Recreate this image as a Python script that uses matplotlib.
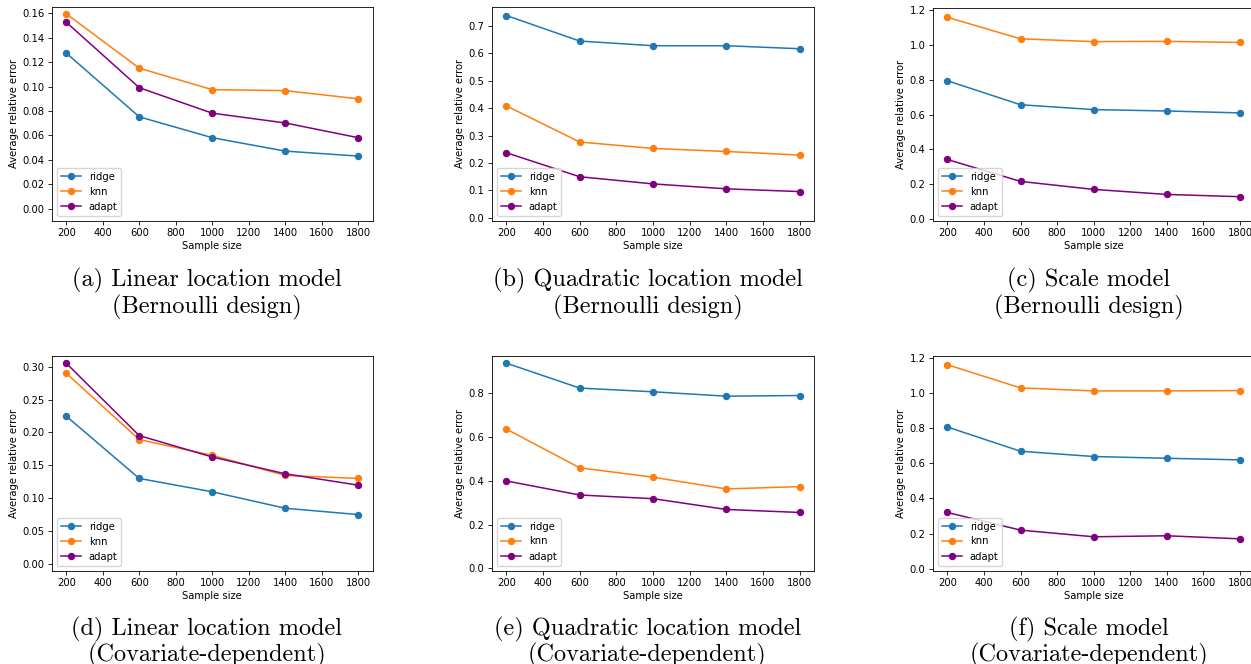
import matplotlib
matplotlib.use("Agg")
import matplotlib.pyplot as plt

W, H = 1251, 664
sample_sizes = [200, 600, 1000, 1400, 1800]
methods = ["ridge", "knn", "adapt"]
colors = {"ridge": "#1f77b4", "knn": "#ff7f0e", "adapt": "#800080"}

# Panel data (average relative error)
a_ridge = [0.1275, 0.0752, 0.0581, 0.0471, 0.0430]
a_knn   = [0.1597, 0.1151, 0.0975, 0.0967, 0.0900]
a_adapt = [0.1528, 0.0991, 0.0782, 0.0702, 0.0581]

b_ridge = [0.737, 0.644, 0.627, 0.627, 0.616]
b_knn   = [0.408, 0.2765, 0.253, 0.242, 0.229]
b_adapt = [0.2375, 0.150, 0.124, 0.106, 0.096]

c_ridge = [0.795, 0.657, 0.629, 0.621, 0.610]
c_knn   = [1.160, 1.036, 1.020, 1.0215, 1.015]
c_adapt = [0.342, 0.216, 0.170, 0.141, 0.128]

d_ridge = [0.2248, 0.1302, 0.1099, 0.0849, 0.0753]
d_knn   = [0.290, 0.1892, 0.1653, 0.1348, 0.1302]
d_adapt = [0.3052, 0.1953, 0.1628, 0.1373, 0.1200]

e_ridge = [0.9367, 0.823, 0.806, 0.786, 0.789]
e_knn   = [0.6357, 0.459, 0.416, 0.3624, 0.373]
e_adapt = [0.399, 0.3347, 0.318, 0.2687, 0.255]

f_ridge = [0.806, 0.668, 0.638, 0.628, 0.619]
f_knn   = [1.160, 1.028, 1.011, 1.011, 1.013]
f_adapt = [0.320, 0.2196, 0.1817, 0.1874, 0.170]

captions = [
    "(a) Linear location model\n(Bernoulli design)",
    "(b) Quadratic location model\n(Bernoulli design)",
    "(c) Scale model\n(Bernoulli design)",
    "(d) Linear location model\n(Covariate-dependent)",
    "(e) Quadratic location model\n(Covariate-dependent)",
    "(f) Scale model\n(Covariate-dependent)",
]

panels = [
    (a_ridge, a_knn, a_adapt),
    (b_ridge, b_knn, b_adapt),
    (c_ridge, c_knn, c_adapt),
    (d_ridge, d_knn, d_adapt),
    (e_ridge, e_knn, e_adapt),
    (f_ridge, f_knn, f_adapt),
]

# axes boxes in pixels: left, right, top, bottom
boxes = [
    (51.7, 372.7, 6.7, 220.7),
    (491.7, 814.3, 6.7, 220.7),
    (932.7, 1254.7, 8.3, 220.7),
    (51.7, 372.7, 355.7, 570.7),
    (491.7, 814.3, 355.7, 570.5),
    (932.7, 1254.7, 356.0, 570.5),
]
# caption centre positions (px): x, y of first line, y of second line
cap_pos = [
    (206.5, 280, 307.5),
    (647.5, 280, 307.5),
    (1089, 280, 307.5),
    (206.5, 629, 655),
    (647.5, 629, 655),
    (1089, 629, 655),
]

fs = 7.2
plt.rcParams.update({
    "font.size": fs,
    "xtick.labelsize": fs,
    "ytick.labelsize": fs,
    "axes.labelsize": fs,
    "legend.fontsize": fs,
    "axes.linewidth": 0.6,
    "xtick.major.width": 0.6,
    "ytick.major.width": 0.6,
    "xtick.major.size": 2.6,
    "ytick.major.size": 2.6,
    "xtick.major.pad": 2.5,
    "ytick.major.pad": 2.5,
    "axes.labelpad": 2.5,
})

fig = plt.figure(figsize=(W / 100, H / 100), dpi=100)

for i, (data, box, cap, cp) in enumerate(zip(panels, boxes, captions, cap_pos)):
    l, r, t, b = box
    ax = fig.add_axes([l / W, 1 - b / H, (r - l) / W, (b - t) / H])
    for m, vals in zip(methods, data):
        ax.plot(sample_sizes, vals, marker="o", color=colors[m], label=m,
                lw=1.1, ms=4.3)
    ax.set_ylim(bottom=-0.01)
    ax.set_xticks([200, 400, 600, 800, 1000, 1200, 1400, 1600, 1800])
    ax.set_xlabel("Sample size")
    ax.set_ylabel("Average relative error")
    ax.legend(loc="lower left", handlelength=2.0, borderpad=0.4,
              labelspacing=0.5, handletextpad=0.8, borderaxespad=0.5)
    line1, line2 = cap.split("\n")
    fig.text(cp[0] / W, 1 - cp[1] / H, line1, ha="center", va="center",
             family="cmr10", fontsize=17.5)
    fig.text(cp[0] / W, 1 - cp[2] / H, line2, ha="center", va="center",
             family="cmr10", fontsize=17.5)

fig.savefig("out.png", dpi=100)
